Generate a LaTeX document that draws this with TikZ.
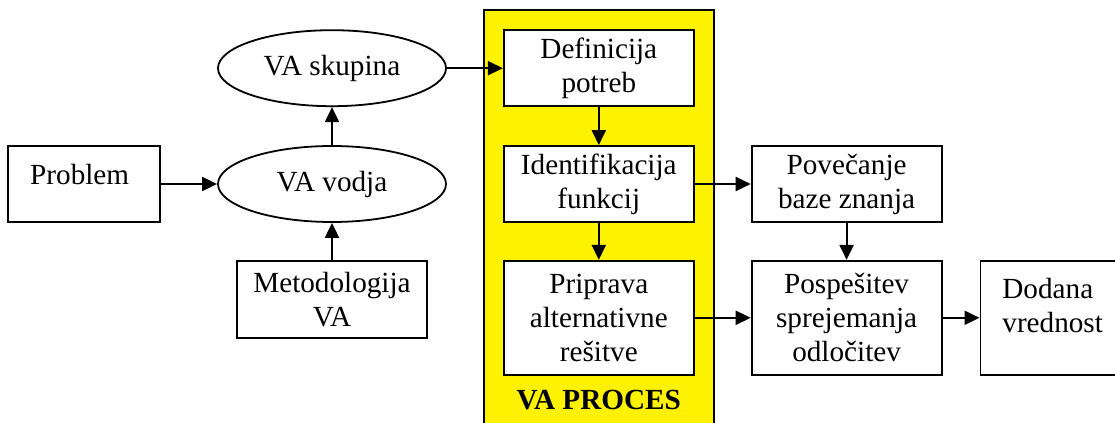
\documentclass[tikz,border=0pt]{standalone}
\usepackage{fontspec}
\setmainfont{Liberation Serif}
\usetikzlibrary{shapes.geometric, arrows.meta, fit, positioning, backgrounds}

\begin{document}
\begin{tikzpicture}[x=0.5pt, y=-0.5pt,
        font=\fontsize{14.6}{17}\selectfont,
        >={Triangle[length=7.5pt,width=7pt]},
        box/.style={draw, line width=0.9pt, fill=white, align=center, inner sep=0pt,
            minimum width=95pt, minimum height=38pt},
        oval/.style={draw, ellipse, line width=0.9pt, inner sep=0pt,
            minimum width=114pt, minimum height=38pt},
        procbox/.style={draw, line width=0.9pt, fill=yellow},
        link/.style={->, line width=1pt}]
        \useasboundingbox (0,0) rectangle (1115,423);

        \node[oval] (vodja) at (332,184) {VA vodja};
        \node[oval, above=19pt] (skupina) at (vodja.north) {VA skupina};
        \node[box, left=28pt, minimum width=76pt, align=left, text width=54pt,
            inner xsep=11pt, text height=19pt, text depth=19pt] (problem) at (vodja.west) {Problem};
        \node[box, below=18.5pt, minimum height=38.5pt] (metod) at (vodja.south) {Metodologija\\VA};
        \draw[link] (problem.east) -- (vodja.west);
        \draw[link] (vodja.north) -- (skupina.south);
        \draw[link] (metod.north) -- (vodja.south);

        \node[box, right=28pt] (def) at (skupina.east) {Definicija\\potreb};
        \node[box, below=19pt] (ident) at (def.south) {Identifikacija\\funkcij};
        \node[box, below=18.5pt, minimum height=57pt] (prip) at (ident.south) {Priprava\\alternativne\\rešitve};
        \coordinate (procbot) at (597,425);
        \begin{scope}[on background layer]
            \node[procbox, fit=(def)(prip)(procbot), inner sep=9.5pt] (proc) {};
        \end{scope}
        \node[font=\fontsize{14.6}{17}\selectfont\bfseries] (proclabel) at ([yshift=-12pt]prip.south) {VA PROCES};
        \draw[link] (skupina.east) -- (def.west);
        \draw[link] (def.south) -- (ident.north);
        \draw[link] (ident.south) -- (prip.north);

        \node[box, right=28pt] (povec) at (ident.east) {Povečanje\\baze znanja};
        \node[box, below=18.5pt, minimum height=57pt] (posp) at (povec.south) {Pospešitev\\sprejemanja\\odločitev};
        \node[box, right=18.5pt, minimum width=95pt, align=left, text width=73pt,
            inner xsep=11pt, text height=19pt, text depth=38pt] (dodana) at (posp.east) {Dodana\\vrednost};
        \draw[link] (ident.east) -- (povec.west);
        \draw[link] (prip.east) -- (posp.west);
        \draw[link] (povec.south) -- (posp.north);
        \draw[link] (posp.east) -- (dodana.west);
\end{tikzpicture}
\end{document}
